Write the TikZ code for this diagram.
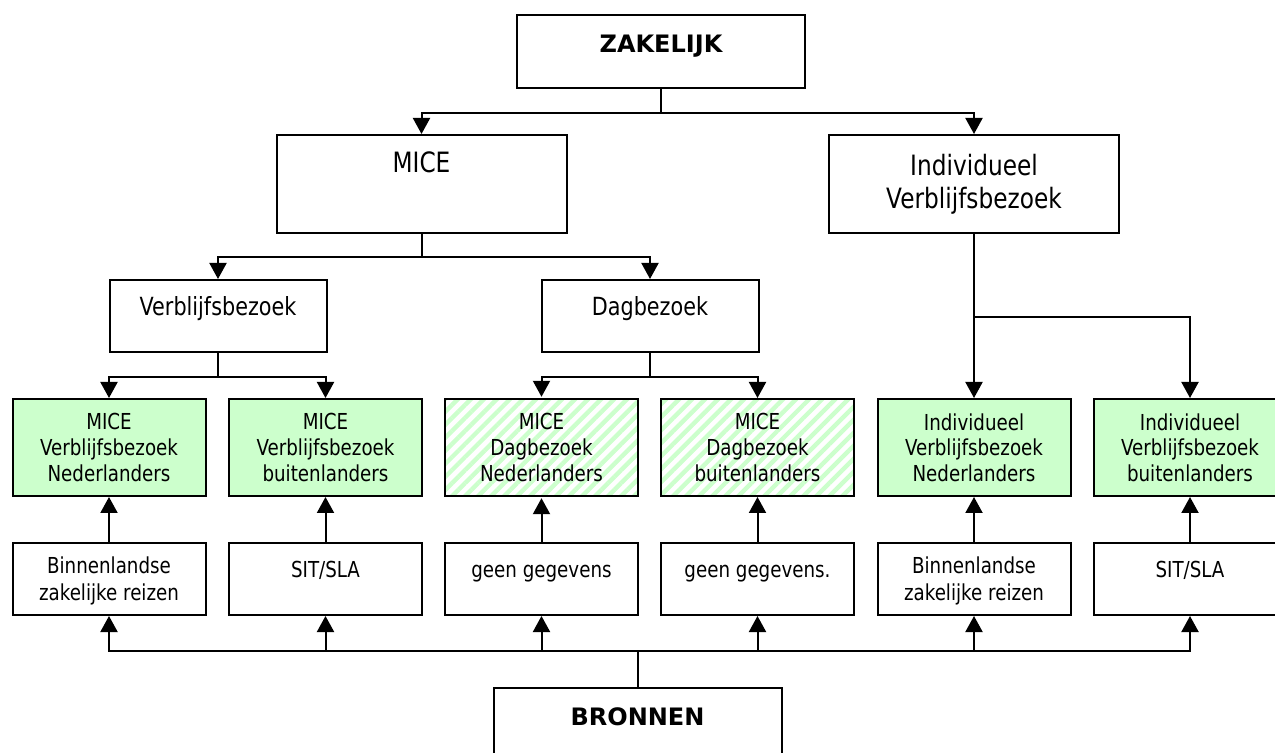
\documentclass[tikz,border=0pt]{standalone}
\usepackage{fontspec}
\setmainfont{DejaVu Sans}[FakeStretch=0.83]
\newfontfamily\headfont{DejaVu Sans}
\usepackage{xcolor}
\usepackage{tikz}
\usetikzlibrary{arrows.meta,patterns.meta}
\definecolor{mint}{HTML}{CCFFCC}
\tikzset{link/.style = {-{Triangle[length=8pt,width=8.5pt]}}}

\begin{document}
\begin{tikzpicture}[x=0.5pt,y=-0.5pt,line width=1pt,
    box/.style={draw,rectangle,align=center,inner sep=0pt},
    head node/.style={box,minimum width=144pt,minimum height=36.5pt,font=\headfont\bfseries\fontsize{12}{14}\selectfont,text height=8.75pt,text depth=7.25pt},
    top node/.style={box,minimum width=145pt,minimum height=49pt,font=\fontsize{14}{16.5}\selectfont},
    mid node/.style={box,minimum width=108.5pt,minimum height=36pt,font=\fontsize{12.5}{15}\selectfont,text height=9.5pt,text depth=9.5pt},
    leaf node/.style={box,minimum width=96.5pt,minimum height=48.5pt,fill=mint,font=\fontsize{11}{12.8}\selectfont},
    hatch node/.style={leaf node,fill=none,pattern={Lines[angle=45,distance=4.6pt,line width=2.2pt]},pattern color=mint},
    src node/.style={box,minimum width=96.5pt,minimum height=36pt,font=\fontsize{11}{13.3}\selectfont},
    one line/.style={text height=8pt,text depth=9pt},
    two line/.style={text height=21.3pt,text depth=0pt}]
    \useasboundingbox (0,0) rectangle (1275,753);

    % hoofdniveau
    \node[head node] (zak) at (661,51.5) {ZAKELIJK};
    \node[top node,text height=10.2pt,text depth=21.5pt] (mice) at (421.5,184) {MICE};
    \node[top node] (indiv) at (974,184) {Individueel\\Verblijfsbezoek};
    \node[mid node] (verbl) at (218,316) {Verblijfsbezoek};
    \node[mid node] (dag) at (650,316) {Dagbezoek};

    % segmenten
    \node[leaf node] (g1) at (109,447.5) {MICE\\Verblijfsbezoek\\Nederlanders};
    \node[leaf node] (g2) at (325.5,447.5) {MICE\\Verblijfsbezoek\\buitenlanders};
    \node[hatch node] (h3) at (541.5,447.5) {MICE\\Dagbezoek\\Nederlanders};
    \node[hatch node] (h4) at (757.5,447.5) {MICE\\Dagbezoek\\buitenlanders};
    \node[leaf node] (g5) at (974,447.5) {Individueel\\Verblijfsbezoek\\Nederlanders};
    \node[leaf node] (g6) at (1190,447.5) {Individueel\\Verblijfsbezoek\\buitenlanders};

    % bronnen
    \node[src node,two line] (b1) at (109,579) {Binnenlandse\\zakelijke reizen};
    \node[src node,one line] (b2) at (325.5,579) {SIT/SLA};
    \node[src node,one line] (b3) at (541.5,579) {geen gegevens};
    \node[src node,one line] (b4) at (757.5,579) {geen gegevens.};
    \node[src node,two line] (b5) at (974,579) {Binnenlandse\\zakelijke reizen};
    \node[src node,one line] (b6) at (1190,579) {SIT/SLA};
    \node[head node] (bron) at (637.5,724) {BRONNEN};

    \draw (zak.south) -- ++(0,24) coordinate (zj);
    \draw[link] (zj) -| (mice.north);
    \draw[link] (zj) -| (indiv.north);

    \draw (mice.south) -- ++(0,23) coordinate (mj);
    \draw[link] (mj) -| (verbl.north);
    \draw[link] (mj) -| (dag.north);

    \draw (verbl.south) -- ++(0,24) coordinate (vj);
    \draw[link] (vj) -| (g1.north);
    \draw[link] (vj) -| (g2.north);
    \draw (dag.south) -- ++(0,24) coordinate (dj);
    \draw[link] (dj) -| (h3.north);
    \draw[link] (dj) -| (h4.north);

    \draw (indiv.south) -- ++(0,83) coordinate (ij);
    \draw[link] (ij) -- (g5.north);
    \draw[link] (ij) -| (g6.north);

    \draw[link] (b1) -- (g1);
    \draw[link] (b2) -- (g2);
    \draw[link] (b3) -- (h3);
    \draw[link] (b4) -- (h4);
    \draw[link] (b5) -- (g5);
    \draw[link] (b6) -- (g6);

    \draw (bron.north) -- ++(0,-36) coordinate (bj);
    \draw[link] (bj) -| (b1.south);
    \draw[link] (bj) -| (b2.south);
    \draw[link] (bj) -| (b3.south);
    \draw[link] (bj) -| (b4.south);
    \draw[link] (bj) -| (b5.south);
    \draw[link] (bj) -| (b6.south);
\end{tikzpicture}
\end{document}
